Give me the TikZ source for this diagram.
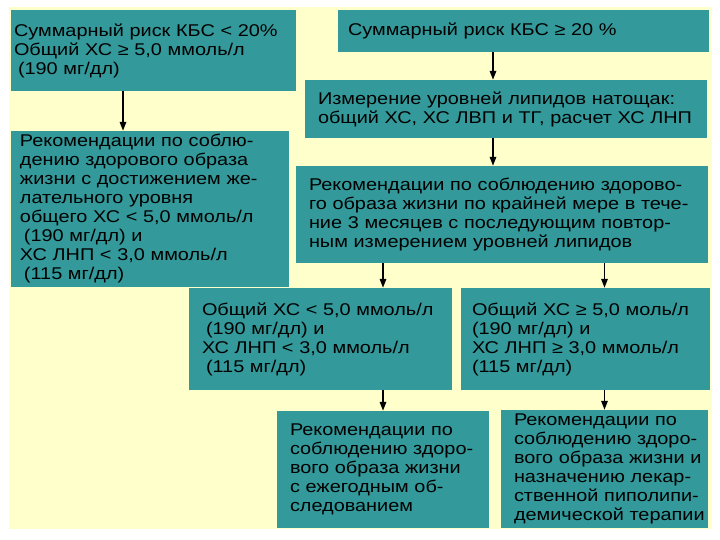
\documentclass[tikz,border=0pt]{standalone}
\usepackage{fontspec}
\newfontfamily\boxfont{Liberation Sans}[FakeStretch=1.17]
\usetikzlibrary{arrows.meta,calc}
\definecolor{kbsteal}{HTML}{33999A}
\definecolor{slidecream}{HTML}{FFFFCC}
\tikzset{
  riskbox/.style={fill=kbsteal, inner xsep=0pt, inner ysep=1pt, align=left,
    font=\boxfont\fontsize{17}{19}\selectfont, execute at begin node={\leftskip=#1}},
  riskbox/.default=13pt,
  flowarrow/.style={-{Triangle[length=9pt,width=6.5pt]}, line width=1.6pt, black}
}
\begin{document}
\begin{tikzpicture}[x=1pt,y=-1pt]
  \fill[white] (0,0) rectangle (720,540);
  \useasboundingbox (0,0) rectangle (720,540);
  \fill[slidecream] (9,7) rectangle (712,529);

  % left branch
  \node[riskbox=3pt, text width=285, minimum height=81] (lowrisk) at (153.5,50.5)
    {Суммарный риск КБС < 20\%\\Общий ХС ≥ 5,0 ммоль/л\\\hspace*{4pt}(190 мг/дл)};
  \node[riskbox=9pt, text width=278, minimum height=156] (lifestyle) at (150,209)
    {Рекомендации по соблю-\\дению здорового образа\\жизни с достижением же-\\лательного уровня\\общего ХС < 5,0 ммоль/л\\\hspace*{4pt}(190 мг/дл) и\\ХС ЛНП < 3,0 ммоль/л\\\hspace*{4pt}(115 мг/дл)};

  % right branch
  \node[riskbox=10pt, text width=371, minimum height=42] (highrisk) at (523.5,31)
    {Суммарный риск КБС ≥ 20 \%};
  \node[riskbox, text width=402, minimum height=58] (lipids) at (506,109)
    {Измерение уровней липидов натощак:\\общий ХС, ХС ЛВП и ТГ, расчет ХС ЛНП};
  \node[riskbox, text width=412, minimum height=97] (retest) at (502,214.5)
    {Рекомендации по соблюдению здорово-\\го образа жизни по крайней мере в тече-\\ние 3 месяцев с последующим повтор-\\ным измерением уровней липидов};
  \node[riskbox, text width=263, minimum height=102] (targetok) at (320.5,339)
    {Общий ХС < 5,0 ммоль/л\\\hspace*{4pt}(190 мг/дл) и\\ХС ЛНП < 3,0 ммоль/л\\\hspace*{4pt}(115 мг/дл)};
  \node[riskbox=11pt, text width=249, minimum height=102] (targethigh) at (585.5,339)
    {Общий ХС ≥ 5,0 моль/л\\(190 мг/дл) и\\ХС ЛНП ≥ 3,0 ммоль/л\\(115 мг/дл)};
  \node[riskbox, text width=212, minimum height=117] (yearly) at (383,469.5)
    {Рекомендации по\\соблюдению здоро-\\вого образа жизни\\с ежегодным об-\\следованием};
  \node[riskbox, text width=207, minimum height=118] (therapy) at (604.5,469)
    {Рекомендации по\\соблюдению здоро-\\вого образа жизни и\\назначению лекар-\\ственной пиполипи-\\демической терапии};

  \coordinate (leftarrow) at ([xshift=-27]lifestyle.north);
  \coordinate (midarrow) at ([xshift=-13]lipids.north);
  \draw[flowarrow] (lowrisk.south -| leftarrow) -- (leftarrow);
  \draw[flowarrow] (highrisk.south -| midarrow) -- (midarrow);
  \draw[flowarrow] (lipids.south -| midarrow) -- (retest.north -| midarrow);
  \draw[flowarrow] (retest.south -| yearly.north) -- (targetok.north -| yearly.north);
  \draw[flowarrow] (retest.south -| therapy.north) -- (targethigh.north -| therapy.north);
  \draw[flowarrow] (targetok.south -| yearly.north) -- (yearly.north);
  \draw[flowarrow] (targethigh.south -| therapy.north) -- (therapy.north);
\end{tikzpicture}
\end{document}
